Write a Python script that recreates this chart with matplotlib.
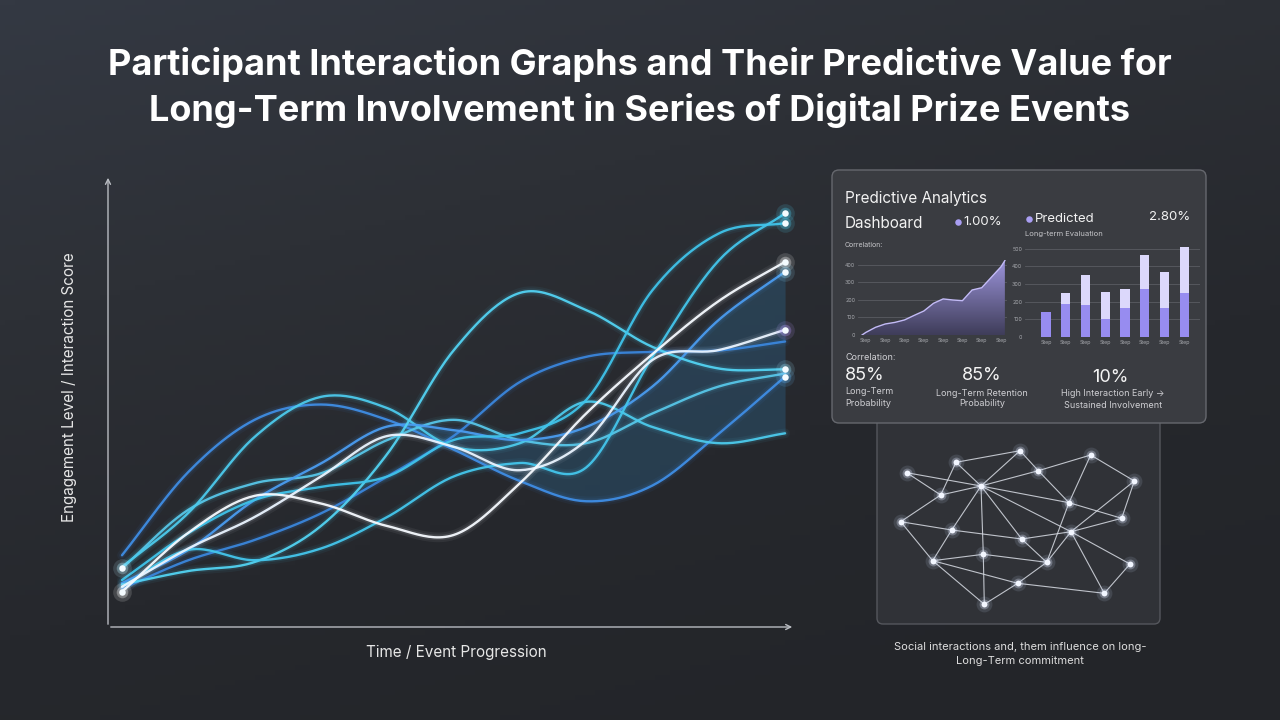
import matplotlib
matplotlib.use("Agg")
import matplotlib.pyplot as plt
import numpy as np
from matplotlib.patches import FancyBboxPatch
from matplotlib.colors import LinearSegmentedColormap

plt.rcParams['font.family'] = ['Inter', 'DejaVu Sans']

# ---- main chart data (engagement score 0-100 over event steps 0-10) ----
steps = list(range(11))
curve_blue_a = [15.5, 34.0, 45.6, 49.0, 45.6, 39.0, 32.0, 27.5, 31.0, 42.5, 55.2]
curve_cyan_a = [12.9, 24.9, 41.8, 50.7, 48.2, 39.6, 40.4, 49.6, 44.0, 40.4, 42.6]
curve_cyan_b = [9.0, 12.0, 14.0, 22.0, 38.0, 61.0, 73.8, 70.0, 61.8, 57.0, 56.8]
curve_white_a = [7.4, 20.5, 28.7, 27.0, 22.0, 20.0, 31.5, 47.0, 60.2, 72.0, 80.7]
curve_white_b = [8.5, 17.0, 24.0, 33.0, 42.0, 39.6, 34.4, 41.0, 58.9, 61.1, 65.6]
curve_cyan_c = [10.0, 20.4, 27.8, 30.7, 33.0, 41.1, 42.6, 50.0, 74.4, 87.0, 89.3]
curve_cyan_d = [8.5, 16.7, 14.4, 17.0, 24.0, 33.0, 36.0, 35.0, 59.6, 81.0, 91.5]
curve_blue_b = [9.3, 16.7, 27.8, 35.9, 44.1, 43.3, 41.1, 44.0, 53.0, 67.8, 78.5]
curve_blue_c = [8.1, 14.4, 18.9, 24.8, 33.0, 42.0, 54.0, 59.6, 60.7, 61.0, 63.0]
curve_cyan_e = [12.6, 25.6, 31.5, 33.7, 41.1, 45.6, 41.1, 40.4, 47.0, 53.0, 55.9]

# ---- dashboard data ----
area_x = [-0.2, 0, 0.5, 1, 1.5, 2, 2.5, 3, 3.5, 4, 4.5, 5, 5.5, 6, 6.5, 7, 7.2]
area_y = [0, 15, 44, 63, 72, 86, 112, 137, 181, 206, 200, 196, 257, 270, 330, 390, 425]
area_labels = ['Step'] * 8
area_ticks = [0, 100, 200, 300, 400]

bar_total = [143, 251, 349, 255, 270, 461, 366, 510]
bar_base = [143, 185, 179, 103, 162, 270, 166, 251]
bar_labels = ['Step'] * 8
bar_ticks = [0, 100, 200, 300, 400, 500]

# ---- network data (pixel positions in the panel) ----
node_x = [906.7, 956, 1020, 1038.3, 1090.7, 1134.3, 940.7, 981, 1069, 1121.7, 900.7,
          951.7, 1021.7, 1071, 932.7, 983.3, 1046.7, 1130, 1017.7, 1104.3, 984.3]
node_y = [472.7, 462.3, 450.7, 470.7, 455, 481, 495, 486, 502.7, 518.3, 521.7,
          530, 539, 531.7, 560.7, 554.3, 562.3, 564, 583.3, 593.3, 604.3]
edges = [(0, 7), (0, 6), (1, 2), (1, 6), (1, 7), (2, 7), (2, 3), (3, 7), (3, 8), (4, 3),
         (4, 5), (4, 8), (5, 9), (5, 13), (7, 6), (7, 8), (7, 13), (7, 12), (7, 11),
         (7, 15), (15, 20), (6, 10), (10, 11), (11, 12), (10, 14), (11, 14), (14, 15),
         (14, 18), (14, 20), (12, 16), (12, 13), (13, 9), (13, 17), (13, 19), (13, 16),
         (8, 9), (8, 16), (17, 19), (18, 19), (18, 20), (18, 16), (15, 16)]


def smooth(x, y, n=24):
    x = np.asarray(x, float)
    y = np.asarray(y, float)
    px = np.r_[2 * x[0] - x[1], x, 2 * x[-1] - x[-2]]
    py = np.r_[2 * y[0] - y[1], y, 2 * y[-1] - y[-2]]
    t = np.linspace(0, 1, n, endpoint=False)
    xs, ys = [], []
    for i in range(1, len(px) - 2):
        for arr, out in ((px, xs), (py, ys)):
            p0, p1, p2, p3 = arr[i - 1], arr[i], arr[i + 1], arr[i + 2]
            out.extend(0.5 * (2 * p1 + (-p0 + p2) * t + (2 * p0 - 5 * p1 + 4 * p2 - p3) * t ** 2
                              + (-p0 + 3 * p1 - 3 * p2 + p3) * t ** 3))
    xs.append(x[-1])
    ys.append(y[-1])
    return np.array(xs), np.array(ys)


fig = plt.figure(figsize=(12.8, 7.2), dpi=100)

# background gradient: bluish slate top-left, darker toward the bottom
bg = fig.add_axes([0, 0, 1, 1], zorder=0)
gx, gy = np.meshgrid(np.linspace(0, 1, 256), np.linspace(0, 1, 144))
g = np.clip(0.35 * gx + 0.75 * gy, 0, 1)
bg_cmap = LinearSegmentedColormap.from_list('bg', ['#343943', '#2d3036', '#26282d', '#232529'])
bg.imshow(g, cmap=bg_cmap, aspect='auto', extent=[0, 1, 0, 1], origin='upper')
bg.axis('off')

# overlay in pixel coordinates
ov = fig.add_axes([0, 0, 1, 1], zorder=1)
ov.set_xlim(0, 1280)
ov.set_ylim(720, 0)
ov.axis('off')
ov.patch.set_alpha(0)

fig.text(0.5, 1 - 65 / 720, 'Participant Interaction Graphs and Their Predictive Value for',
         ha='center', va='center', color='white', fontsize=26, fontweight='bold')
fig.text(0.5, 1 - 110 / 720, 'Long-Term Involvement in Series of Digital Prize Events',
         ha='center', va='center', color='white', fontsize=26, fontweight='bold')

# ---- main chart ----
ax = fig.add_axes([108 / 1280, 93 / 720, 687 / 1280, 452 / 720], zorder=2)
ax.patch.set_alpha(0)
ax.set_xlim(-0.211, 10.15)
ax.set_ylim(-0.44, 100)
for s in ax.spines.values():
    s.set_visible(False)
ax.set_xticks([])
ax.set_yticks([])
ax.annotate('', xy=(0, 1), xytext=(0, 0), xycoords='axes fraction',
            arrowprops=dict(arrowstyle='->', color='#b9bcc2', lw=1, mutation_scale=9))
ax.annotate('', xy=(1, 0), xytext=(0, 0), xycoords='axes fraction',
            arrowprops=dict(arrowstyle='->', color='#b9bcc2', lw=1, mutation_scale=9))

# translucent band
bx, by_top = smooth(steps, curve_blue_b)
_, by_a = smooth(steps, curve_blue_a)
_, by_c = smooth(steps, curve_cyan_a)
by_low = np.minimum(by_a, by_c)
mask = bx >= 2.0
ax.fill_between(bx[mask], by_low[mask], np.maximum(by_top[mask], by_low[mask]),
                color='#2f78aa', alpha=0.28, lw=0, zorder=1)

curves = [
    (curve_blue_a, '#3f8de4'),
    (curve_blue_c, '#3a86dc'),
    (curve_cyan_e, '#57c6e8'),
    (curve_cyan_a, '#4ccaec'),
    (curve_blue_b, '#4a9cf0'),
    (curve_cyan_b, '#52d2f2'),
    (curve_cyan_c, '#3fc3ea'),
    (curve_cyan_d, '#44c6ec'),
    (curve_white_b, '#eaf4ff'),
    (curve_white_a, '#f6faff'),
]
for vals, col in curves:
    sx, sy = smooth(steps, vals)
    ax.plot(sx, sy, color=col, lw=7, alpha=0.06, solid_capstyle='round', zorder=2)
    ax.plot(sx, sy, color=col, lw=4, alpha=0.1, solid_capstyle='round', zorder=2)
    ax.plot(sx, sy, color=col, lw=1.7, alpha=0.95, solid_capstyle='round', zorder=3)

# end / start markers
dots = [
    (10, curve_cyan_d[-1], '#4fd0f2'),
    (10, curve_cyan_c[-1], '#4fd0f2'),
    (10, curve_white_a[-1], '#ffffff'),
    (10, curve_blue_b[-1], '#8fd6f5'),
    (10, curve_white_b[-1], '#b79cff'),
    (10, curve_cyan_b[-1], '#9fe4f8'),
    (10, curve_blue_a[-1], '#5fb2f0'),
    (0, curve_cyan_e[0], '#bff0ff'),
    (0, curve_white_a[0], '#ffffff'),
]
for dx, dy, col in dots:
    ax.scatter([dx], [dy], s=180, color=col, alpha=0.15, lw=0, zorder=4)
    ax.scatter([dx], [dy], s=70, color=col, alpha=0.3, lw=0, zorder=4)
    ax.scatter([dx], [dy], s=22, color='#f4fbff', lw=0, zorder=5)

fig.text(70 / 1280, 1 - 387 / 720, 'Engagement Level / Interaction Score', rotation=90,
         ha='center', va='center', color='#e6e6e6', fontsize=11)
fig.text(456 / 1280, 1 - 653 / 720, 'Time / Event Progression',
         ha='center', va='center', color='#e6e6e6', fontsize=11)

# ---- network panel ----
ov.add_patch(FancyBboxPatch((877, 405), 283, 219, boxstyle='round,pad=0,rounding_size=6',
                            facecolor='#303237', edgecolor='#55575d', lw=1, zorder=1))
for a, b in edges:
    ov.plot([node_x[a], node_x[b]], [node_y[a], node_y[b]], color='#d9dde5', lw=0.8,
            alpha=0.85, zorder=2)
ov.scatter(node_x, node_y, s=130, color='#cfe0ff', alpha=0.12, lw=0, zorder=3)
ov.scatter(node_x, node_y, s=50, color='#dfe9ff', alpha=0.3, lw=0, zorder=3)
ov.scatter(node_x, node_y, s=18, color='#f2f6ff', lw=0, zorder=4)
ov.text(1020, 647, 'Social interactions and, them influence on long-', ha='center', va='center',
        color='#dedede', fontsize=8)
ov.text(1020, 661, 'Long-Term commitment', ha='center', va='center', color='#dedede', fontsize=8)

# ---- dashboard panel ----
ov.add_patch(FancyBboxPatch((832, 170), 374, 253, boxstyle='round,pad=0,rounding_size=7',
                            facecolor='#3a3c41', edgecolor='#66686e', lw=1, zorder=5))
txt = dict(zorder=6, va='center')
ov.text(845, 198, 'Predictive Analytics', color='#f2f2f2', fontsize=11, ha='left', **txt)
ov.text(845, 223, 'Dashboard', color='#f2f2f2', fontsize=11, ha='left', **txt)
ov.scatter([958], [222], s=22, color='#a99ef2', zorder=6, lw=0)
ov.text(963, 222, '1.00%', color='#f2f2f2', fontsize=9.5, ha='left', **txt)
ov.scatter([1029], [219], s=22, color='#a99ef2', zorder=6, lw=0)
ov.text(1035, 219, 'Predicted', color='#f2f2f2', fontsize=9.5, ha='left', **txt)
ov.text(1190, 217, '2.80%', color='#f2f2f2', fontsize=9.5, ha='right', **txt)
ov.text(845, 245, 'Correlation:', color='#c4c4c8', fontsize=5, ha='left', **txt)
ov.text(1025, 234, 'Long-term Evaluation', color='#c4c4c8', fontsize=5.5, ha='left', **txt)

ov.text(845, 358, 'Correlation:', color='#d0d0d4', fontsize=6.5, ha='left', **txt)
ov.text(845, 376, '85%', color='#f4f4f4', fontsize=13, ha='left', **txt)
ov.text(845, 391, 'Long-Term', color='#cfcfd3', fontsize=6.5, ha='left', **txt)
ov.text(845, 403, 'Probability', color='#cfcfd3', fontsize=6.5, ha='left', **txt)
ov.text(982, 376, '85%', color='#f4f4f4', fontsize=13, ha='center', **txt)
ov.text(982, 393, 'Long-Term Retention', color='#cfcfd3', fontsize=6.5, ha='center', **txt)
ov.text(982, 404, 'Probability', color='#cfcfd3', fontsize=6.5, ha='center', **txt)
ov.text(1110, 377, '10%', color='#f4f4f4', fontsize=13, ha='center', **txt)
ov.text(1113, 394, 'High Interaction Early \u2192', color='#cfcfd3', fontsize=6.5, ha='center', **txt)
ov.text(1113, 406, 'Sustained Involvement', color='#cfcfd3', fontsize=6.5, ha='center', **txt)

# area mini chart
axl = fig.add_axes([858 / 1280, 1 - 335 / 720, 149 / 1280, 75.3 / 720], zorder=3)
axl.patch.set_alpha(0)
axl.set_xlim(-0.41, 7.31)
axl.set_ylim(0, 430)
area_cmap = LinearSegmentedColormap.from_list('ar', ['#3f3d5a', '#9d95dc'])
grad = np.linspace(0, 1, 100).reshape(-1, 1)
im = axl.imshow(grad, extent=[-0.41, 7.31, 0, 430], origin='lower', aspect='auto',
                cmap=area_cmap, zorder=2)
poly = axl.fill_between(area_x, 0, area_y, facecolor='none', lw=0)
im.set_clip_path(poly.get_paths()[0], transform=axl.transData)
axl.plot(area_x, area_y, color='#c3bbf6', lw=1, zorder=3)
axl.set_yticks(area_ticks)
axl.set_xticks(range(8))
axl.set_xticklabels(area_labels)
axl.grid(axis='y', color='#5a5c62', lw=0.6)
axl.set_axisbelow(True)
axl.tick_params(length=0, labelsize=3.8, labelcolor='#a9abb0', pad=2)
for s in axl.spines.values():
    s.set_visible(False)

# bar mini chart
axr = fig.add_axes([1025 / 1280, 1 - 337 / 720, 175 / 1280, 92 / 720], zorder=3)
axr.patch.set_alpha(0)
axr.set_xlim(-1.07, 7.8)
axr.set_ylim(0, 520)
bx8 = np.arange(len(bar_total))
axr.bar(bx8, bar_total, width=0.47, color='#dcd8fb', zorder=2)
axr.bar(bx8, bar_base, width=0.47, color='#978cf0', zorder=3)
axr.set_yticks(bar_ticks)
axr.set_xticks(bx8)
axr.set_xticklabels(bar_labels)
axr.grid(axis='y', color='#5a5c62', lw=0.6)
axr.set_axisbelow(True)
axr.tick_params(length=0, labelsize=3.8, labelcolor='#a9abb0', pad=2)
for s in axr.spines.values():
    s.set_visible(False)

fig.savefig('out.png', dpi=100, facecolor='#26282d')
